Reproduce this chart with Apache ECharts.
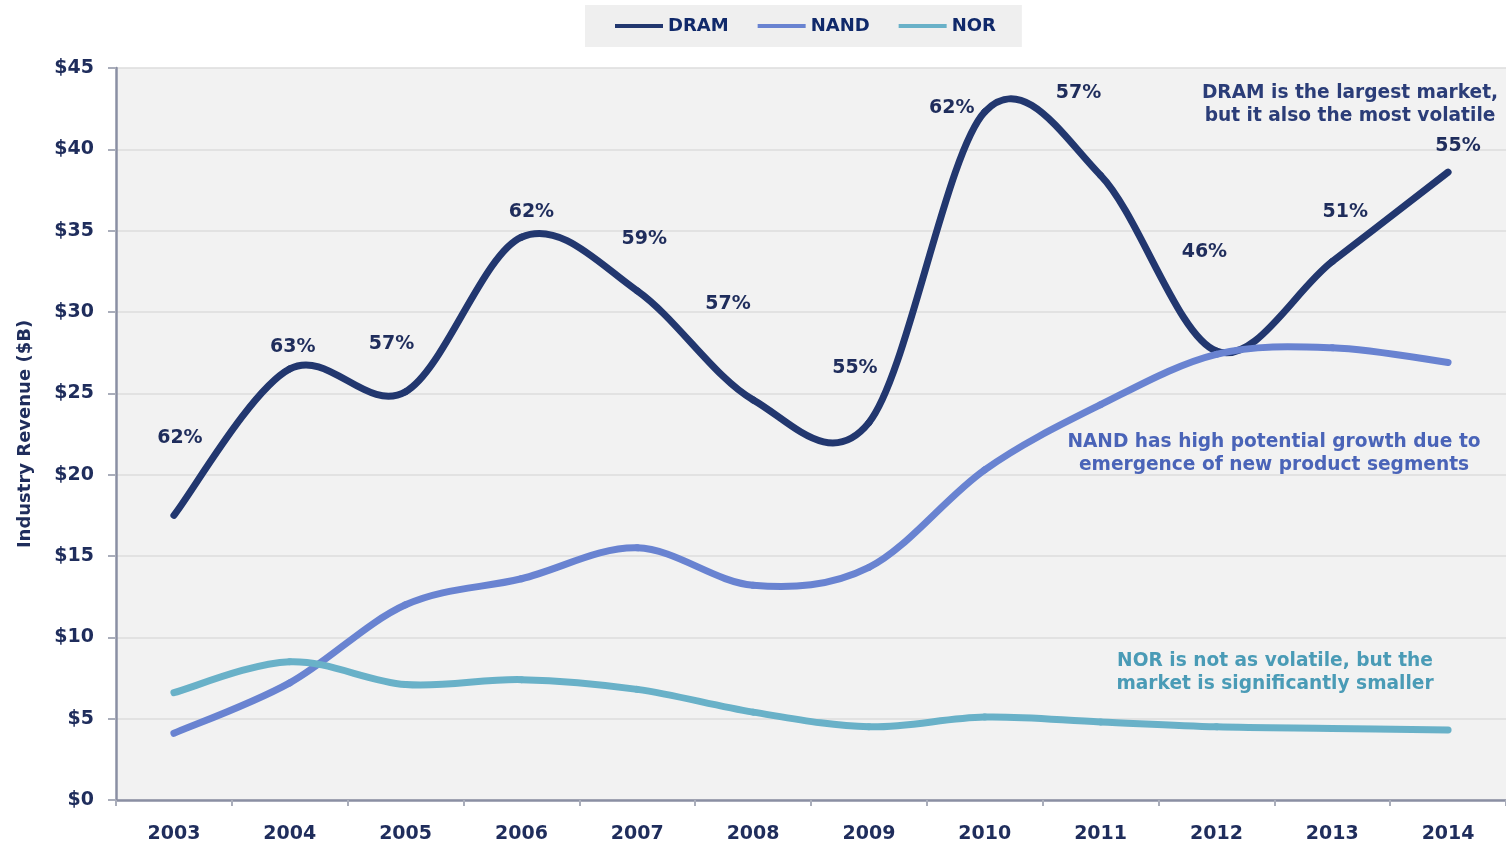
<!DOCTYPE html>
<html>
<head>
<meta charset="utf-8">
<style>
  html, body { margin: 0; padding: 0; background: #fff; }
  #chart { width: 1506px; height: 846px; }
</style>
<script src="https://cdn.jsdelivr.net/npm/echarts@6/dist/echarts.min.js"></script>
</head>
<body>
<div id="chart"></div>
<script>
// data
var years = ['2003', '2004', '2005', '2006', '2007', '2008', '2009', '2010', '2011', '2012', '2013', '2014'];
var dram = [17.5, 26.5, 25.1, 34.6, 31.3, 24.6, 23.2, 42.3, 38.4, 27.6, 33.1, 38.6];
var nand = [4.1, 7.2, 12.0, 13.6, 15.5, 13.2, 14.3, 20.3, 24.3, 27.4, 27.8, 26.9];
var nor = [6.6, 8.5, 7.1, 7.4, 6.8, 5.4, 4.5, 5.1, 4.8, 4.5, 4.4, 4.3];
var dramShare = ['62%', '63%', '57%', '62%', '59%', '57%', '55%', '62%', '57%', '46%', '51%', '55%'];

// where each share label sits relative to its point (px)
var shareOffsets = [[6, -77], [3, -22], [-14, -48], [10, -25], [7, -52], [-25, -96],
    [-14, -55], [-33, -4], [-22, -82], [-12, -99], [13, -50], [10, -26]];

var navy = '#1f2d5c';
var font = 'DejaVu Sans';

// excel-style smoothed line: one bezier segment per point, control points from the neighbours
function curveSeries(name, values, color, labels) {
    var n = values.length;
    return {
        name: name,
        type: 'custom',
        data: values.map(function (v, i) { return [i, v]; }),
        itemStyle: {color: color},
        renderItem: function (params, api) {
            var i = params.dataIndex;
            var pt = function (j) {
                j = Math.max(0, Math.min(n - 1, j));
                return api.coord([j, values[j]]);
            };
            var p1 = pt(i);
            var children = [];
            if (i < n - 1) {
                var p0 = pt(i - 1), p2 = pt(i + 1), p3 = pt(i + 2);
                children.push({
                    type: 'bezierCurve',
                    shape: {
                        x1: p1[0], y1: p1[1], x2: p2[0], y2: p2[1],
                        cpx1: p1[0] + (p2[0] - p0[0]) / 6, cpy1: p1[1] + (p2[1] - p0[1]) / 6,
                        cpx2: p2[0] - (p3[0] - p1[0]) / 6, cpy2: p2[1] - (p3[1] - p1[1]) / 6
                    },
                    style: {stroke: color, lineWidth: 7, fill: 'none', lineCap: 'round'}
                });
            }
            if (labels) {
                var off = shareOffsets[i];
                children.push({
                    type: 'text',
                    x: p1[0] + off[0],
                    y: p1[1] + off[1],
                    z2: 10,
                    style: {
                        text: labels[i], fill: navy, font: 'bold 19px "DejaVu Sans"',
                        align: 'center', verticalAlign: 'middle'
                    }
                });
            }
            return {type: 'group', children: children};
        }
    };
}

var chart = echarts.init(document.getElementById('chart'));

chart.setOption({
    animation: false,
    textStyle: {fontFamily: font},
    legend: {
        left: 585,
        top: 5,
        padding: [12, 26, 12, 30],
        backgroundColor: '#efefef',
        itemGap: 29,
        itemWidth: 48,
        itemHeight: 4,
        icon: 'rect',
        textStyle: {color: '#10296a', fontFamily: font, fontWeight: 'bold', fontSize: 18},
        data: ['DRAM', 'NAND', 'NOR']
    },
    grid: {
        left: 116,
        top: 68,
        right: -4,
        bottom: 46,
        show: true,
        backgroundColor: '#f2f2f2',
        borderWidth: 0
    },
    xAxis: {
        type: 'category',
        data: years,
        boundaryGap: true,
        axisLine: {lineStyle: {color: '#8a8fa3', width: 2.5}},
        axisTick: {show: true, length: 6, lineStyle: {color: '#a9adba', width: 2}},
        axisLabel: {color: navy, fontFamily: font, fontWeight: 'bold', fontSize: 19, margin: 25}
    },
    yAxis: {
        type: 'value',
        min: 0,
        max: 45,
        interval: 5,
        name: 'Industry Revenue ($B)',
        nameLocation: 'middle',
        nameGap: 82,
        nameTextStyle: {color: navy, fontFamily: font, fontWeight: 'bold', fontSize: 18},
        axisLine: {show: true, lineStyle: {color: '#8a8fa3', width: 2.5}},
        axisTick: {show: true, length: 8, lineStyle: {color: '#a9adba', width: 2}},
        splitLine: {lineStyle: {color: '#dcdcdc', width: 1.5}},
        axisLabel: {
            color: navy, fontFamily: font, fontWeight: 'bold', fontSize: 19, margin: 22,
            formatter: '${value}'
        }
    },
    graphic: [
        {
            type: 'text', x: 1350, y: 82, z: 10,
            style: {
                text: 'DRAM is the largest market,\nbut it also the most volatile',
                fill: '#2b3d78', font: 'bold 18.6px "DejaVu Sans"', align: 'center', lineHeight: 23
            }
        },
        {
            type: 'text', x: 1274, y: 431, z: 10,
            style: {
                text: 'NAND has high potential growth due to\nemergence of new product segments',
                fill: '#4a64b8', font: 'bold 18.6px "DejaVu Sans"', align: 'center', lineHeight: 23
            }
        },
        {
            type: 'text', x: 1275, y: 650, z: 10,
            style: {
                text: 'NOR is not as volatile, but the\nmarket is significantly smaller',
                fill: '#4a9bb6', font: 'bold 18.6px "DejaVu Sans"', align: 'center', lineHeight: 23
            }
        }
    ],
    series: [
        curveSeries('DRAM', dram, '#22376f', dramShare),
        curveSeries('NAND', nand, '#6983d1'),
        curveSeries('NOR', nor, '#69b1c8')
    ]
});
</script>
</body>
</html>
